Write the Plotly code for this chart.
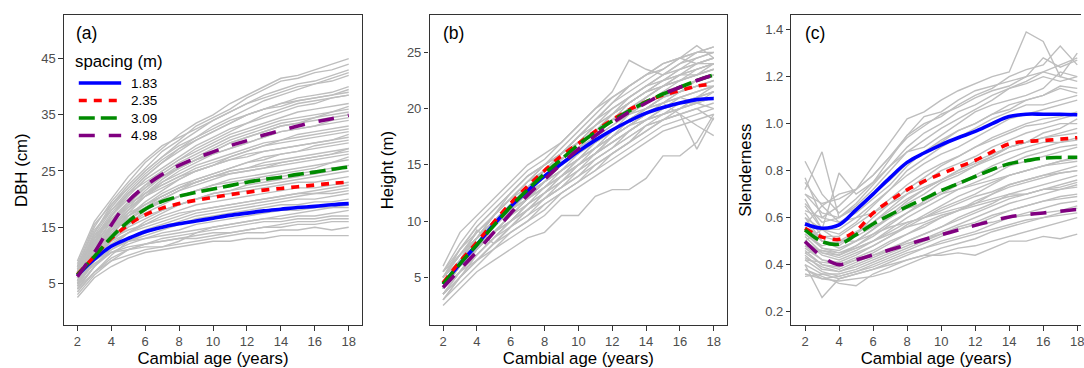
import plotly.graph_objects as go

# ---------------- data ----------------
ages = list(range(2, 19))
spacing_labels = ["1.83", "2.35", "3.09", "4.98"]

# mean curves by spacing (ages 2..18)
dbh_183 = [6.4, 9.3, 11.6, 13.0, 14.2, 15.0, 15.6, 16.1, 16.6, 17.1, 17.5, 17.9, 18.2, 18.5, 18.7, 19.0, 19.2]
dbh_235 = [6.6, 9.8, 13.0, 15.4, 17.2, 18.4, 19.2, 19.8, 20.3, 20.8, 21.2, 21.6, 21.9, 22.2, 22.5, 22.8, 23.0]
dbh_309 = [6.5, 9.8, 13.2, 16.0, 18.2, 19.6, 20.5, 21.2, 21.8, 22.4, 23.0, 23.5, 23.9, 24.4, 24.8, 25.3, 25.7]
dbh_498 = [6.2, 10.5, 15.4, 19.6, 22.3, 24.4, 26.0, 27.3, 28.4, 29.5, 30.4, 31.4, 32.2, 33.0, 33.7, 34.3, 34.9]

ht_183 = [4.4, 6.2, 7.9, 9.7, 11.3, 12.7, 14.0, 15.1, 16.2, 17.2, 18.1, 18.9, 19.6, 20.1, 20.5, 20.8, 20.9]
ht_235 = [4.5, 6.4, 8.1, 9.9, 11.6, 13.1, 14.5, 15.8, 16.9, 18.0, 19.0, 19.9, 20.6, 21.2, 21.6, 22.0, 22.2]
ht_309 = [4.4, 6.2, 7.9, 9.6, 11.3, 12.8, 14.2, 15.5, 16.8, 17.9, 18.9, 19.8, 20.6, 21.3, 21.9, 22.5, 23.0]
ht_498 = [4.1, 5.7, 7.3, 9.0, 10.7, 12.3, 13.7, 15.1, 16.4, 17.6, 18.7, 19.7, 20.5, 21.3, 21.9, 22.5, 23.0]

sl_183 = [0.573, 0.555, 0.569, 0.633, 0.70, 0.77, 0.835, 0.875, 0.91, 0.94, 0.967, 1.0, 1.03, 1.04, 1.04, 1.04, 1.038]
sl_235 = [0.555, 0.517, 0.508, 0.544, 0.619, 0.672, 0.718, 0.755, 0.786, 0.815, 0.843, 0.88, 0.914, 0.924, 0.928, 0.934, 0.94]
sl_309 = [0.548, 0.498, 0.487, 0.527, 0.573, 0.612, 0.647, 0.68, 0.715, 0.745, 0.775, 0.805, 0.829, 0.842, 0.853, 0.856, 0.857]
sl_498 = [0.498, 0.434, 0.40, 0.42, 0.441, 0.463, 0.485, 0.507, 0.527, 0.547, 0.567, 0.585, 0.603, 0.613, 0.62, 0.627, 0.635]

# individual trees (ages 2..18)
dbh_trees = [
    [8, 15, 19.5, 23, 26.5, 29, 31.5, 33.5, 35, 37, 38.5, 40, 41.5, 42, 43, 44, 45],
    [7.5, 14, 19, 22.5, 25.5, 28.5, 30.5, 33, 34.5, 36, 38, 39.5, 41, 41.5, 42.5, 43, 44],
    [9, 16, 20, 24, 27, 29.5, 31, 32.5, 34, 35.5, 37, 38, 39, 40, 40.5, 41, 42],
    [7, 13, 17.5, 21, 24, 26.5, 28.5, 30.5, 32, 33.5, 35, 36, 37, 38, 38.5, 39, 40],
    [6.5, 12, 17, 20.5, 23.5, 25.5, 27.5, 29.5, 31, 32.5, 33.5, 34.5, 35.5, 36.5, 37, 38, 38.5],
    [8, 14.5, 18, 21, 23, 25, 27, 28.5, 30, 31.5, 32.5, 33.5, 34.5, 35.5, 36, 36.5, 37],
    [6, 11, 15.5, 19, 22, 24.5, 26.5, 28, 29.5, 31, 32, 33, 34, 34.5, 35, 35.5, 36],
    [7, 13, 17, 20, 22.5, 24, 25.5, 27, 28.5, 30, 31, 32, 33, 33.5, 34, 34.5, 35],
    [5.5, 10, 14, 17.5, 20.5, 23, 25, 26.5, 28, 29, 30, 31, 32, 32.5, 33, 33.5, 34],
    [6.5, 12, 16, 19, 21, 23, 24.5, 26, 27, 28, 29, 30, 30.5, 31.5, 32, 32.5, 33],
    [5, 9.5, 13.5, 17, 19.5, 21.5, 23.5, 25, 26, 27.5, 28.5, 29.5, 30, 30.5, 31, 31.5, 32],
    [7.5, 13, 16, 18.5, 20.5, 22, 23.5, 25, 26, 27, 27.5, 28.5, 29, 29.5, 30, 30.5, 31],
    [6, 11, 14.5, 17, 19, 21, 22.5, 23.5, 24.5, 25.5, 26.5, 27, 28, 28.5, 29, 29.5, 30],
    [4.5, 9, 12.5, 15.5, 18, 20, 21.5, 23, 24, 25, 25.5, 26.5, 27, 27.5, 28, 28.5, 29],
    [6.5, 11.5, 15, 17.5, 19, 20.5, 22, 23, 24, 24.5, 25, 25.5, 26, 26.5, 27, 27.5, 28],
    [5.5, 10, 13, 15.5, 17.5, 19, 20.5, 21.5, 22.5, 23.5, 24, 24.5, 25, 25.5, 26, 26.5, 27],
    [7, 12, 14.5, 16.5, 18, 19.5, 20.5, 21.5, 22, 22.5, 23, 23.5, 24, 24.5, 25, 25.5, 26],
    [4, 8, 11.5, 14, 16, 17.5, 19, 20, 21, 21.5, 22, 22.5, 23, 23.5, 24, 24.5, 25],
    [6, 10.5, 13.5, 15.5, 17, 18, 19, 20, 20.5, 21, 21.5, 22, 22.5, 23, 23, 23.5, 24],
    [5, 9, 12, 14, 15.5, 17, 18, 19, 19.5, 20, 20.5, 21, 21.5, 22, 22, 22.5, 23],
    [7, 11, 13, 14.5, 15.5, 16.5, 17.5, 18, 18.5, 19, 19.5, 20, 20.5, 21, 21, 21.5, 22],
    [3.5, 7, 10, 12.5, 14, 15, 16, 17, 17.5, 18, 18.5, 19, 19.5, 20, 20, 20.5, 21],
    [5.5, 9, 11, 12.5, 13.5, 14.5, 15.5, 16.5, 17, 17.5, 18, 18.5, 19, 19, 19.5, 19.5, 20],
    [4.5, 8, 10.5, 11, 11.5, 11.5, 12.5, 14, 15, 15.5, 16, 16.5, 17, 17.5, 18, 18.5, 19],
    [6, 9.5, 11.5, 12.5, 13, 13.5, 14, 14.5, 15, 15.5, 16, 16.5, 16.5, 17, 17, 17.5, 18],
    [3, 6.5, 9, 11, 12, 13, 13.5, 14, 14.5, 15, 15.5, 16, 16, 16.5, 16.5, 17, 17],
    [5, 8.5, 10.5, 11.5, 12, 12.5, 13, 13.5, 14, 14, 14.5, 15, 15, 15.5, 15.5, 16, 16],
    [4, 7, 9, 10, 11, 11.5, 12, 12.5, 13, 13.5, 14, 14, 14.5, 14.5, 15, 14.5, 15],
    [2.5, 6, 8, 9.5, 10.5, 11, 11.5, 12, 12.5, 12.5, 13, 13, 13.5, 13.5, 13.5, 13.5, 13.5],
    [8.5, 15.5, 19, 22, 25, 27.5, 29.5, 31, 32.5, 34, 35, 36, 36.5, 37.5, 38, 38.5, 39],
    [6, 12.5, 17, 21, 24, 26.5, 29, 31, 33, 34.5, 36, 37.5, 38.5, 39.5, 40.5, 41.5, 42.5],
    [7, 13.5, 18, 21.5, 24.5, 27, 29, 30.5, 32, 33.5, 35, 36, 37, 37.5, 38, 38.5, 39.5],
    [5, 10.5, 15, 18.5, 21.5, 24, 26, 27.5, 29, 30.5, 31.5, 32.5, 33.5, 34, 34.5, 35, 35.5],
    [6.5, 12.5, 16.5, 19.5, 22, 24, 25.5, 27, 28, 29, 30, 31, 32, 32.5, 33, 34, 34.5],
    [5.5, 11, 15, 18, 20.5, 22.5, 24, 25.5, 26.5, 27.5, 28.5, 29.5, 30.5, 31, 31.5, 32, 32.5],
    [8, 13.5, 16.5, 19, 21, 22.5, 24, 25, 26, 27, 28, 28.5, 29, 29.5, 30, 30.5, 31.5],
    [4.5, 9.5, 13, 16, 18.5, 20.5, 22, 23.5, 24.5, 25.5, 26.5, 27.5, 28, 28.5, 29.5, 30, 30.5],
    [6, 10.5, 14, 16.5, 18.5, 20, 21.5, 22.5, 23.5, 24.5, 25, 25.5, 26.5, 27, 27.5, 28, 29],
    [7.5, 12.5, 15, 17, 18.5, 19.5, 20.5, 21.5, 22.5, 23, 23.5, 24, 24.5, 25, 25.5, 26.5, 27.5],
    [5, 9.5, 12.5, 15, 16.5, 18, 19, 20, 21, 21.5, 22.5, 23, 23.5, 24, 24.5, 25, 26],
    [6.5, 10, 12.5, 14, 15, 16, 17, 18, 18.5, 19, 19.5, 20, 20.5, 21, 21.5, 22, 22.5],
    [4, 8, 11, 13, 14.5, 15.5, 16.5, 17.5, 18, 18.5, 19, 19.5, 20, 20.5, 21, 21, 21.5],
    [5.5, 8.5, 10.5, 12, 13, 14, 14.5, 15.5, 16, 16.5, 17, 17.5, 18, 18, 18.5, 18.5, 18.5],
    [3.5, 7, 9.5, 11, 12, 12.5, 13, 13, 13.5, 14, 14.5, 15, 15.5, 16, 16, 16.5, 16.5],
    [6, 11.5, 16, 19.5, 22.5, 25, 27, 29, 30.5, 32, 33.5, 35, 36, 37, 37.5, 38, 38.5],
    [7, 14, 18.5, 22, 25, 27.5, 30, 32, 34, 35.5, 37, 38.5, 39.5, 40.5, 41, 42, 43],
    [5, 10, 14.5, 18, 21, 23.5, 25.5, 27, 28.5, 30, 31, 32, 33, 33.5, 34.5, 35.5, 36.5],
    [6, 11, 14.5, 17, 19, 20.5, 22, 23, 24, 25, 25.5, 26, 26.5, 27, 27.5, 28, 28.5],
]

ht_trees = [
    [5.5, 7.5, 9.5, 11, 12.5, 14, 15, 16, 17.5, 19, 20.5, 22, 23, 24, 24.5, 25, 25.5],
    [6, 9, 10.5, 12, 13.5, 15, 16, 17, 18.5, 20, 21.5, 24.3, 23.5, 23, 24, 25, 25],
    [4.5, 6.5, 8.5, 10.5, 12, 13.5, 14.5, 16, 17.5, 19, 20.5, 21.5, 22.5, 23.5, 24.5, 25.6, 24.5],
    [5, 7, 9, 10.5, 12, 13, 14.5, 15.5, 17, 18.5, 19.5, 21, 22, 23, 24, 24.5, 25],
    [4, 6, 8, 9.5, 11, 12.5, 14, 15, 16.5, 18, 19.5, 20.5, 21.5, 22.5, 23.5, 24, 24.5],
    [4.5, 6.5, 8, 10, 11.5, 13, 14, 15.5, 16.5, 17.5, 19, 20.5, 21.5, 22, 23, 23.5, 24],
    [3.5, 5.5, 7.5, 9, 10.5, 12, 13.5, 14.5, 16, 17.5, 18.5, 19.5, 21, 22, 22.5, 23.5, 24],
    [5, 7, 8.5, 10, 11.5, 12.5, 14, 15.5, 17, 18, 19.5, 20.5, 21.5, 22, 22.5, 23, 23.5],
    [4, 6, 7.5, 9, 10.5, 12, 13, 14.5, 15.5, 17, 18, 19.5, 20.5, 21.5, 22, 22.5, 23],
    [3, 5, 7, 8.5, 10, 11.5, 12.5, 13.5, 15, 16.5, 17.5, 19, 20, 21, 21.5, 22.5, 23],
    [4.5, 6, 7.5, 9, 10, 11.5, 12.5, 14, 15, 16, 17.5, 18.5, 19.5, 20.5, 21.5, 22, 22.5],
    [3.5, 5, 6.5, 8, 9.5, 10.5, 12, 13, 14.5, 15.5, 16.5, 18, 19, 20, 21, 21.5, 22],
    [5.5, 7, 8.5, 9.5, 11, 12, 13, 14, 15, 16, 17, 18, 19, 20, 20.5, 21, 21.5],
    [4, 5.5, 7, 8.5, 9.5, 11, 12, 13, 14, 15, 16, 17, 18.5, 19.5, 20, 20.5, 21],
    [3, 4.5, 6, 7.5, 9, 10, 11.5, 12.5, 13.5, 14.5, 16, 17, 18, 19, 19.5, 20, 20.5],
    [4, 5.5, 6.5, 7.5, 8.5, 9.5, 10.5, 12, 13, 14, 15, 16, 17, 18, 18.5, 19, 19.5],
    [2.5, 4, 5.5, 6.5, 7.5, 8.5, 9, 10.5, 10.5, 12.2, 12.8, 12.8, 13.8, 15.8, 15.8, 17, 19.5],
    [4.5, 6.5, 9.2, 8, 9.5, 11, 12, 13.5, 14.5, 16, 17, 18, 19, 19.5, 20, 20.5, 21],
    [5, 7, 9, 10.5, 12, 13.5, 15, 16, 17, 18, 19, 19.5, 20, 20.5, 21, 20.5, 21.5],
    [3.5, 5.5, 7, 8.5, 10, 11, 12.5, 13.5, 15, 16, 17.5, 18.5, 19.5, 20.5, 19.5, 18.5, 17.6],
    [4, 6, 7.5, 9, 10, 11, 12.5, 13.5, 14.5, 15.5, 16.5, 17.5, 18.5, 19, 19.5, 16.4, 19.2],
    [5, 7.5, 9.5, 11, 12.5, 14, 15, 16.5, 18, 19.5, 21, 22, 23, 23.5, 24.5, 24, 24.5],
    [4.5, 6.5, 8.5, 10, 11.5, 12.5, 13.5, 14.5, 15.5, 16.5, 18, 19, 20, 21, 22, 22.5, 23],
    [3.5, 5, 6.5, 8, 9, 10, 11, 12.5, 13.5, 14.5, 15.5, 16.5, 17.5, 18.5, 19, 19.5, 20],
    [5, 6.5, 8, 9.5, 11, 12.5, 13.5, 15, 16, 17.5, 18.5, 19.5, 20.5, 21.5, 22.5, 23, 24],
    [4.5, 6.5, 8.5, 10, 11.5, 13, 14.5, 15.5, 17, 18.5, 19.5, 20.5, 21.5, 22.5, 23, 23.5, 24],
    [5, 7, 8.5, 10.5, 12, 13.5, 14.5, 16, 17, 18, 19.5, 20.5, 21.5, 22.5, 23, 24, 24.5],
    [4, 6, 7.5, 9.5, 11, 12.5, 14, 15, 16.5, 17.5, 19, 20, 21, 22, 22.5, 23, 23.5],
    [3.5, 5.5, 7.5, 9, 10.5, 12, 13.5, 14.5, 15.5, 17, 18, 19, 20, 21, 21.5, 22, 22.5],
    [5, 6.5, 8, 9.5, 11, 12.5, 13.5, 15, 16, 17, 18, 19, 20, 20.5, 21, 21.5, 22],
    [4, 6, 7, 8.5, 10, 11.5, 12.5, 14, 15, 16, 17, 18, 19, 19.5, 20.5, 21, 21.5],
    [4.5, 6, 8, 9.5, 11, 12, 13.5, 14.5, 15.5, 16.5, 17.5, 18.5, 19.5, 20, 20.5, 20.5, 20],
    [3, 5, 6.5, 8, 9.5, 11, 12, 13, 14, 15.5, 16.5, 17.5, 18.5, 19, 19.5, 20, 19],
    [5.5, 8, 10, 11.5, 13, 14.5, 15.5, 17, 18.5, 20, 21, 22, 23, 24, 24.5, 25, 25.5],
    [4.5, 6.5, 8.5, 10.5, 12, 13.5, 15, 16, 17.5, 19, 20, 21, 22, 23, 23.5, 24.5, 25],
    [4, 5.5, 7.5, 9, 10.5, 11.5, 13, 14, 15.5, 16.5, 17.5, 18.5, 19.5, 20.5, 21.5, 22, 22],
    [3.5, 5, 6.5, 8, 9.5, 10.5, 11.5, 12.5, 13.5, 15, 16, 17, 18, 19, 20, 20.5, 21],
    [5, 7.5, 9, 10.5, 12.5, 14, 15, 16, 17.5, 18.5, 20, 21, 22, 22.5, 23.5, 24, 24],
    [4.5, 6, 7.5, 9, 10.5, 12, 13, 14, 15.5, 16.5, 17.5, 18.5, 19, 19.5, 20, 21, 22],
    [4, 6.5, 8.5, 10, 11.5, 13, 14.5, 15.5, 16.5, 18, 19, 20, 21, 22, 23, 23, 23.5],
]

sl_trees = [
    [0.77, 0.6, 0.65, 0.72, 0.82, 0.92, 1.02, 1.05, 1.1, 1.14, 1.17, 1.2, 1.22, 1.39, 1.35, 1.2, 1.18],
    [0.84, 0.7, 0.62, 0.68, 0.75, 0.85, 0.95, 1.0, 1.03, 1.08, 1.12, 1.15, 1.2, 1.23, 1.25, 1.33, 1.25],
    [0.72, 0.88, 0.6, 0.65, 0.72, 0.8, 0.88, 0.93, 0.98, 1.02, 1.06, 1.1, 1.15, 1.18, 1.22, 1.2, 1.3],
    [0.68, 0.55, 0.79, 0.7, 0.75, 0.82, 0.88, 0.9, 0.95, 1.0, 1.05, 1.08, 1.1, 1.12, 1.15, 1.22, 1.2],
    [0.7, 0.62, 0.6, 0.64, 0.7, 0.76, 0.83, 0.88, 0.93, 0.97, 1.0, 1.04, 1.06, 1.1, 1.12, 1.15, 1.13],
    [0.65, 0.55, 0.55, 0.6, 0.66, 0.72, 0.78, 0.83, 0.87, 0.9, 0.94, 0.98, 1.02, 1.04, 1.06, 1.08, 1.1],
    [0.62, 0.52, 0.52, 0.57, 0.62, 0.68, 0.74, 0.79, 0.83, 0.86, 0.9, 0.94, 0.97, 1.0, 1.02, 1.03, 1.05],
    [0.6, 0.5, 0.48, 0.53, 0.58, 0.64, 0.7, 0.75, 0.8, 0.83, 0.86, 0.9, 0.93, 0.96, 0.98, 1.0, 1.0],
    [0.58, 0.5, 0.47, 0.5, 0.55, 0.6, 0.66, 0.7, 0.75, 0.78, 0.82, 0.86, 0.9, 0.92, 0.94, 0.95, 0.96],
    [0.55, 0.47, 0.45, 0.48, 0.53, 0.58, 0.62, 0.67, 0.71, 0.75, 0.78, 0.82, 0.85, 0.88, 0.9, 0.92, 0.93],
    [0.52, 0.45, 0.43, 0.46, 0.5, 0.55, 0.6, 0.64, 0.68, 0.72, 0.75, 0.78, 0.82, 0.84, 0.86, 0.88, 0.9],
    [0.5, 0.44, 0.42, 0.45, 0.48, 0.52, 0.56, 0.6, 0.64, 0.67, 0.7, 0.74, 0.78, 0.8, 0.82, 0.84, 0.85],
    [0.48, 0.42, 0.4, 0.43, 0.46, 0.5, 0.53, 0.57, 0.6, 0.63, 0.66, 0.7, 0.74, 0.76, 0.78, 0.8, 0.82],
    [0.46, 0.4, 0.38, 0.41, 0.44, 0.47, 0.5, 0.53, 0.56, 0.6, 0.63, 0.66, 0.7, 0.72, 0.74, 0.76, 0.78],
    [0.44, 0.38, 0.37, 0.39, 0.42, 0.45, 0.48, 0.51, 0.54, 0.57, 0.6, 0.63, 0.66, 0.68, 0.7, 0.72, 0.74],
    [0.42, 0.37, 0.35, 0.37, 0.4, 0.43, 0.46, 0.49, 0.52, 0.55, 0.57, 0.6, 0.63, 0.65, 0.67, 0.69, 0.7],
    [0.4, 0.26, 0.34, 0.36, 0.38, 0.41, 0.44, 0.47, 0.5, 0.52, 0.54, 0.57, 0.6, 0.62, 0.64, 0.66, 0.67],
    [0.38, 0.35, 0.32, 0.31, 0.36, 0.39, 0.42, 0.44, 0.47, 0.49, 0.51, 0.54, 0.56, 0.58, 0.6, 0.62, 0.64],
    [0.36, 0.34, 0.33, 0.34, 0.35, 0.37, 0.4, 0.43, 0.45, 0.47, 0.48, 0.5, 0.52, 0.54, 0.56, 0.58, 0.6],
    [0.35, 0.36, 0.34, 0.36, 0.38, 0.4, 0.42, 0.44, 0.44, 0.45, 0.44, 0.47, 0.5, 0.5, 0.52, 0.51, 0.53],
    [0.75, 0.65, 0.7, 0.72, 0.78, 0.86, 0.94, 0.99, 1.04, 1.07, 1.11, 1.14, 1.16, 1.2, 1.22, 1.25, 1.28],
    [0.57, 0.65, 0.58, 0.6, 0.62, 0.66, 0.7, 0.73, 0.76, 0.8, 0.83, 0.86, 0.9, 0.92, 0.96, 0.98, 1.02],
    [0.5, 0.55, 0.5, 0.52, 0.56, 0.6, 0.64, 0.66, 0.7, 0.72, 0.74, 0.76, 0.78, 0.8, 0.82, 0.83, 0.84],
    [0.45, 0.46, 0.44, 0.47, 0.5, 0.53, 0.56, 0.58, 0.61, 0.63, 0.65, 0.67, 0.69, 0.7, 0.72, 0.72, 0.73],
    [0.53, 0.48, 0.5, 0.5, 0.53, 0.56, 0.58, 0.6, 0.62, 0.64, 0.66, 0.68, 0.7, 0.7, 0.72, 0.74, 0.76],
    [0.66, 0.58, 0.6, 0.66, 0.74, 0.82, 0.9, 0.96, 1.0, 1.05, 1.08, 1.12, 1.15, 1.17, 1.2, 1.18, 1.2],
    [0.6, 0.55, 0.53, 0.58, 0.65, 0.72, 0.8, 0.85, 0.9, 0.94, 0.98, 1.02, 1.05, 1.08, 1.08, 1.1, 1.12],
    [0.56, 0.5, 0.49, 0.53, 0.6, 0.66, 0.72, 0.77, 0.82, 0.86, 0.9, 0.93, 0.96, 0.99, 1.0, 1.02, 1.04],
    [0.53, 0.47, 0.46, 0.5, 0.55, 0.61, 0.67, 0.72, 0.76, 0.8, 0.84, 0.87, 0.9, 0.92, 0.94, 0.96, 0.98],
    [0.5, 0.45, 0.44, 0.48, 0.52, 0.57, 0.62, 0.66, 0.7, 0.74, 0.77, 0.8, 0.83, 0.86, 0.88, 0.9, 0.91],
    [0.47, 0.42, 0.41, 0.44, 0.48, 0.52, 0.57, 0.61, 0.65, 0.69, 0.72, 0.75, 0.78, 0.8, 0.82, 0.84, 0.86],
    [0.45, 0.4, 0.39, 0.42, 0.45, 0.49, 0.53, 0.56, 0.6, 0.63, 0.67, 0.7, 0.73, 0.75, 0.77, 0.79, 0.8],
    [0.43, 0.39, 0.37, 0.4, 0.43, 0.46, 0.5, 0.53, 0.56, 0.59, 0.62, 0.65, 0.68, 0.7, 0.72, 0.73, 0.75],
    [0.4, 0.36, 0.36, 0.38, 0.41, 0.44, 0.47, 0.5, 0.53, 0.56, 0.58, 0.61, 0.63, 0.65, 0.67, 0.68, 0.69],
    [0.38, 0.34, 0.35, 0.37, 0.39, 0.42, 0.45, 0.47, 0.49, 0.51, 0.53, 0.55, 0.57, 0.59, 0.6, 0.61, 0.62],
    [0.7, 0.66, 0.68, 0.72, 0.78, 0.86, 0.95, 1.03, 1.05, 1.1, 1.14, 1.16, 1.18, 1.2, 1.28, 1.24, 1.27],
    [0.63, 0.6, 0.58, 0.62, 0.68, 0.74, 0.82, 0.88, 0.92, 0.97, 1.0, 1.04, 1.08, 1.1, 1.12, 1.16, 1.15],
    [0.55, 0.52, 0.5, 0.54, 0.58, 0.63, 0.68, 0.72, 0.76, 0.79, 0.82, 0.85, 0.88, 0.9, 0.92, 0.92, 0.94],
    [0.48, 0.46, 0.45, 0.47, 0.5, 0.54, 0.58, 0.6, 0.63, 0.66, 0.69, 0.71, 0.74, 0.76, 0.78, 0.79, 0.8],
    [0.42, 0.41, 0.4, 0.42, 0.44, 0.46, 0.49, 0.51, 0.53, 0.55, 0.57, 0.58, 0.6, 0.61, 0.62, 0.63, 0.65],
]

x_ticks = [2, 4, 6, 8, 10, 12, 14, 16, 18]
dbh_ticks = [5, 15, 25, 35, 45]
ht_ticks = [5, 10, 15, 20, 25]
sl_ticks = [0.2, 0.4, 0.6, 0.8, 1.0, 1.2, 1.4]

# ---------------- styling ----------------
W, H = 1084, 368
FONT = "Liberation Sans, Arial, sans-serif"
colors = ["#0000FF", "#FF0000", "#008B00", "#800080"]
dashes = ["solid", "8px,7px", "16px,6px", "16px,14px"]
gray = "#BEBEBE"

fig = go.Figure()

panels = [
    ("x", "y", dbh_trees, [dbh_183, dbh_235, dbh_309, dbh_498]),
    ("x2", "y2", ht_trees, [ht_183, ht_235, ht_309, ht_498]),
    ("x3", "y3", sl_trees, [sl_183, sl_235, sl_309, sl_498]),
]

for pi, (xa, ya, trees, curves) in enumerate(panels):
    for t in trees:
        fig.add_trace(go.Scatter(x=ages, y=t, mode="lines", xaxis=xa, yaxis=ya,
                                 line=dict(color=gray, width=1.4), showlegend=False,
                                 hoverinfo="skip"))
    for ci, c in enumerate(curves):
        fig.add_trace(go.Scatter(x=ages, y=c, mode="lines", xaxis=xa, yaxis=ya,
                                 name=spacing_labels[ci], showlegend=False,
                                 line=dict(color=colors[ci], width=3.6, dash=dashes[ci],
                                           shape="spline", smoothing=1.0)))


def px_x(p):
    return p / W


def px_y(p):
    return 1 - p / H


ydom = [px_y(325), px_y(15.3)]

axis_common = dict(showline=True, linecolor="#333333", linewidth=1.1,
                   ticks="outside", ticklen=4.5, tickwidth=1.1, tickcolor="#333333",
                   tickfont=dict(family=FONT, size=13, color="#4D4D4D"),
                   showgrid=False, zeroline=False)
title_font = dict(family=FONT, size=16.8, color="#000000")

fig.update_layout(
    width=W, height=H,
    margin=dict(l=0, r=0, t=0, b=0),
    paper_bgcolor="white", plot_bgcolor="white",
    font=dict(family=FONT),
    showlegend=False,
    xaxis=dict(domain=[px_x(64), px_x(363.3)], range=[1.2, 18.8], anchor="y",
               tickvals=x_ticks, mirror=True,
               title=dict(text="Cambial age (years)", font=title_font, standoff=6), **axis_common),
    yaxis=dict(domain=ydom, range=[-2.4, 52.7], anchor="x", tickvals=dbh_ticks, mirror=True,
               title=dict(text="DBH (cm)", font=title_font, standoff=9), **axis_common),
    xaxis2=dict(domain=[px_x(430.7), px_x(729.3)], range=[1.2, 18.8], anchor="y2",
                tickvals=x_ticks, mirror=True,
                title=dict(text="Cambial age (years)", font=title_font, standoff=6), **axis_common),
    yaxis2=dict(domain=ydom, range=[0.76, 28.3], anchor="x2", tickvals=ht_ticks, mirror=True,
                title=dict(text="Height (m)", font=title_font, standoff=9), **axis_common),
    xaxis3=dict(domain=[px_x(793.6), 1.0], range=[1.2, 18.22], anchor="y3",
                tickvals=x_ticks, mirror=True, ticklabeloverflow="allow",
                title=dict(text="Cambial age (years)", font=title_font, standoff=6), **axis_common),
    yaxis3=dict(domain=ydom, range=[0.143, 1.461], anchor="x3", tickvals=sl_ticks,
                tickformat=".1f", mirror=False,
                title=dict(text="Slenderness", font=title_font, standoff=9), **axis_common),
)

# panel labels
for lab, xp in [("(a)", 74), ("(b)", 442), ("(c)", 805)]:
    fig.add_annotation(text=lab, xref="paper", yref="paper", x=px_x(xp), y=px_y(33),
                       xanchor="left", yanchor="middle", showarrow=False,
                       font=dict(family=FONT, size=17.5, color="#000000"))

# legend (drawn inside panel a)
fig.add_annotation(text="spacing (m)", xref="paper", yref="paper", x=px_x(73), y=px_y(62),
                   xanchor="left", yanchor="middle", showarrow=False,
                   font=dict(family=FONT, size=16.8, color="#000000"))
legend_rows = [83, 100.5, 118, 135.5]
for ci, lab in enumerate(spacing_labels):
    yy = px_y(legend_rows[ci])
    fig.add_shape(type="line", xref="paper", yref="paper", x0=px_x(79), x1=px_x(121.5),
                  y0=yy, y1=yy, line=dict(color=colors[ci], width=3.6, dash=dashes[ci]))
    fig.add_annotation(text=lab, xref="paper", yref="paper", x=px_x(129.5), y=yy,
                       xanchor="left", yanchor="middle", showarrow=False,
                       font=dict(family=FONT, size=13.5, color="#000000"))

fig.write_html("out.html")
